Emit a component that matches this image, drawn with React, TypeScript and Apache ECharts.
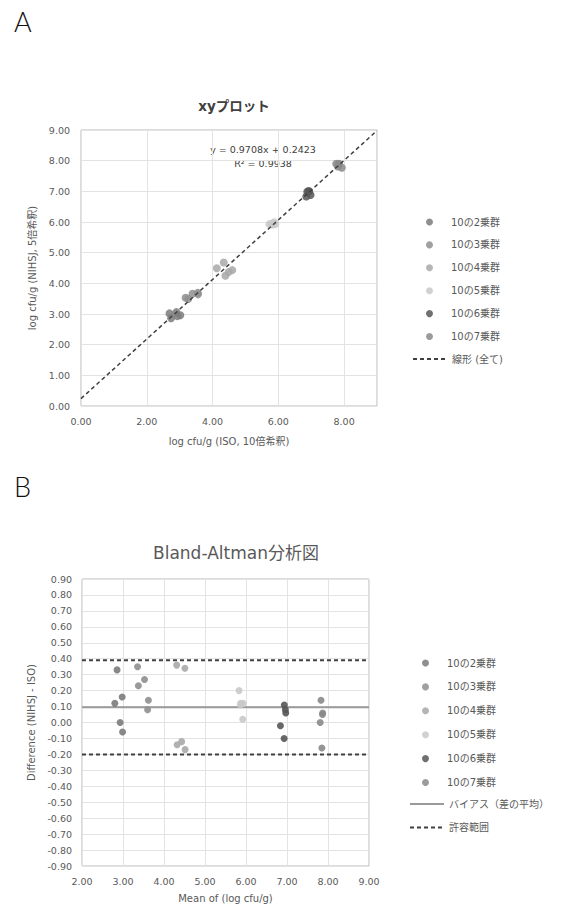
import React, { useEffect, useRef } from "react";
import * as echarts from "echarts";

const GROUPS = ["10の2乗群", "10の3乗群", "10の4乗群", "10の5乗群", "10の6乗群", "10の7乗群"];
const GROUP_COLORS = ["#7b7b7b", "#8f8f8f", "#a8a8a8", "#c9c9c9", "#575757", "#8a8a8a"];

// ISO (10倍希釈) and NIHSJ (5倍希釈) log cfu/g per group
const ISO_2 = [2.69, 2.9, 2.74, 2.93, 3.02];
const NIHSJ_2 = [3.02, 3.06, 2.86, 2.93, 2.96];
const ISO_3 = [3.18, 3.39, 3.26, 3.55, 3.56];
const NIHSJ_3 = [3.53, 3.66, 3.49, 3.69, 3.64];
const ISO_4 = [4.13, 4.34, 4.49, 4.39, 4.6];
const NIHSJ_4 = [4.49, 4.68, 4.37, 4.25, 4.43];
const ISO_5 = [5.73, 5.81, 5.87, 5.91, 5.81];
const NIHSJ_5 = [5.93, 5.93, 5.99, 5.93, 5.92];
const ISO_6 = [6.88, 6.92, 6.94, 6.85, 6.98];
const NIHSJ_6 = [6.99, 7.0, 7.0, 6.83, 6.88];
const ISO_7 = [7.76, 7.84, 7.81, 7.93, 7.84];
const NIHSJ_7 = [7.9, 7.9, 7.81, 7.77, 7.89];

const ISO = [ISO_2, ISO_3, ISO_4, ISO_5, ISO_6, ISO_7];
const NIHSJ = [NIHSJ_2, NIHSJ_3, NIHSJ_4, NIHSJ_5, NIHSJ_6, NIHSJ_7];

// regression (線形 全て)
const SLOPE = 0.9708;
const INTERCEPT = 0.2423;
const R2 = 0.9938;
const TREND_X = [0, 9];

// Bland-Altman
const BIAS = 0.095;
const LOA_UPPER = 0.39;
const LOA_LOWER = -0.2;
const BA_X = [2, 9];

const FONT = "'DejaVu Sans', 'Noto Sans CJK JP', sans-serif";
const TXT = "#595959";

export default function App() {
  const ref = useRef<HTMLDivElement>(null);
  useEffect(() => {
    if (!ref.current) return;
    const chart = echarts.init(ref.current, undefined, { renderer: "svg" });

    const scatterA = GROUPS.map((g, i) => ({
      name: g,
      type: "scatter",
      xAxisIndex: 0,
      yAxisIndex: 0,
      symbolSize: 8,
      itemStyle: { color: GROUP_COLORS[i], opacity: 0.85 },
      data: ISO[i].map((x, j) => [x, NIHSJ[i][j]]),
      z: 3,
    }));
    const scatterB = GROUPS.map((g, i) => ({
      name: g,
      type: "scatter",
      xAxisIndex: 1,
      yAxisIndex: 1,
      symbolSize: 7,
      itemStyle: { color: GROUP_COLORS[i], opacity: 0.9 },
      data: ISO[i].map((x, j) => [(x + NIHSJ[i][j]) / 2, NIHSJ[i][j] - x]),
      z: 3,
    }));

    const axisLabel = { color: TXT, fontSize: 9.5, fontFamily: FONT };
    const splitLine = { show: true, lineStyle: { color: "#e3e3e3", width: 1 } };
    const nameStyle = { color: TXT, fontSize: 10, fontFamily: FONT };
    const legendText = { color: TXT, fontSize: 10, fontFamily: FONT };

    const option: any = {
      animation: false,
      backgroundColor: "#ffffff",
      textStyle: { fontFamily: FONT },
      title: [
        {
          text: "xyプロット",
          left: 229,
          top: 94,
          textAlign: "center",
          textStyle: { fontSize: 13.5, fontWeight: "bold", color: "#404040", fontFamily: FONT },
        },
        {
          text: "Bland-Altman分析図",
          left: 231,
          top: 539,
          textAlign: "center",
          textStyle: { fontSize: 17, fontWeight: "normal", color: TXT, fontFamily: FONT },
        },
      ],
      grid: [
        { left: 81, top: 130, width: 296, height: 276, show: true, borderColor: "#b8b8b8", borderWidth: 1, backgroundColor: "transparent" },
        { left: 82, top: 579, width: 287, height: 287, show: true, borderColor: "#b8b8b8", borderWidth: 1, backgroundColor: "transparent" },
      ],
      xAxis: [
        {
          gridIndex: 0,
          type: "value",
          min: 0,
          max: 9,
          interval: 2,
          axisLine: { show: false },
          axisTick: { show: false },
          splitLine,
          axisLabel: { ...axisLabel, margin: 11, showMaxLabel: false, formatter: (v: number) => (v > 8.5 ? "" : v.toFixed(2)) },
          name: "log cfu/g (ISO, 10倍希釈)",
          nameLocation: "middle",
          nameGap: 30,
          nameTextStyle: nameStyle,
        },
        {
          gridIndex: 1,
          type: "value",
          min: 2,
          max: 9,
          interval: 1,
          axisLine: { show: false },
          axisTick: { show: false },
          splitLine,
          axisLabel: { ...axisLabel, margin: 11, formatter: (v: number) => v.toFixed(2) },
          name: "Mean of (log cfu/g)",
          nameLocation: "middle",
          nameGap: 27,
          nameTextStyle: nameStyle,
        },
      ],
      yAxis: [
        {
          gridIndex: 0,
          type: "value",
          min: 0,
          max: 9,
          interval: 1,
          axisLine: { show: false },
          axisTick: { show: false },
          splitLine,
          axisLabel: { ...axisLabel, margin: 11, formatter: (v: number) => v.toFixed(2) },
          name: "log cfu/g (NIHSJ, 5倍希釈)",
          nameLocation: "middle",
          nameGap: 40,
          nameTextStyle: nameStyle,
        },
        {
          gridIndex: 1,
          type: "value",
          min: -0.9,
          max: 0.9,
          interval: 0.1,
          axisLine: { show: false },
          axisTick: { show: false },
          splitLine,
          axisLabel: { ...axisLabel, margin: 10, formatter: (v: number) => (Math.abs(v) < 1e-9 ? "0.00" : v.toFixed(2)) },
          name: "Difference (NIHSJ - ISO)",
          nameLocation: "middle",
          nameGap: 46,
          nameTextStyle: nameStyle,
        },
      ],
      legend: [
        {
          orient: "vertical",
          left: 421,
          top: 212,
          itemWidth: 7,
          itemHeight: 7,
          itemGap: 12.9,
          icon: "circle",
          data: GROUPS,
          textStyle: { ...legendText, padding: [0, 0, 0, 13] },
          selectedMode: false,
        },
        {
          orient: "vertical",
          left: 407,
          top: 349,
          itemWidth: 34,
          itemHeight: 8,
          itemStyle: { opacity: 0 },
          data: ["線形 (全て)"],
          textStyle: legendText,
          selectedMode: false,
        },
        {
          orient: "vertical",
          left: 417,
          top: 653,
          itemWidth: 7,
          itemHeight: 7,
          itemGap: 13.9,
          icon: "circle",
          data: GROUPS,
          textStyle: { ...legendText, padding: [0, 0, 0, 13] },
          selectedMode: false,
        },
        {
          orient: "vertical",
          left: 404,
          top: 794,
          itemWidth: 34,
          itemHeight: 8,
          itemGap: 13.6,
          itemStyle: { opacity: 0 },
          data: ["バイアス（差の平均）", "許容範囲"],
          textStyle: legendText,
          selectedMode: false,
        },
      ],
      graphic: [
        { type: "text", left: 14, top: 8, style: { text: "A", fontSize: 27, fontWeight: 300, fill: "#111", fontFamily: "Lato, sans-serif" } },
        { type: "text", left: 14, top: 473, style: { text: "B", fontSize: 27, fontWeight: 300, fill: "#111", fontFamily: "Lato, sans-serif" } },
        {
          type: "text",
          x: 263,
          y: 149,
          style: { text: `y = ${SLOPE}x + ${INTERCEPT}`, fontSize: 9.5, fill: "#404040", fontFamily: FONT, align: "center", verticalAlign: "middle" },
        },
        {
          type: "text",
          x: 263,
          y: 163,
          style: { text: `R² = ${R2}`, fontSize: 9.5, fill: "#404040", fontFamily: FONT, align: "center", verticalAlign: "middle" },
        },
      ],
      series: [
        ...scatterA,
        {
          name: "線形 (全て)",
          type: "line",
          xAxisIndex: 0,
          yAxisIndex: 0,
          symbol: "none",
          lineStyle: { color: "#404040", width: 1.5, type: [4, 3] },
          itemStyle: { color: "#404040" },
          data: TREND_X.map((x) => [x, SLOPE * x + INTERCEPT]),
          z: 4,
        },
        ...scatterB,
        {
          name: "バイアス（差の平均）",
          type: "line",
          xAxisIndex: 1,
          yAxisIndex: 1,
          symbol: "none",
          lineStyle: { color: "#9a9a9a", width: 2 },
          itemStyle: { color: "#9a9a9a" },
          data: BA_X.map((x) => [x, BIAS]),
          z: 2,
        },
        {
          name: "許容範囲",
          type: "line",
          xAxisIndex: 1,
          yAxisIndex: 1,
          symbol: "none",
          connectNulls: false,
          lineStyle: { color: "#404040", width: 2, type: [4, 3] },
          itemStyle: { color: "#404040" },
          data: [...BA_X.map((x) => [x, LOA_UPPER]), ["-", "-"], ...BA_X.map((x) => [x, LOA_LOWER])],
          z: 2,
        },
      ],
    };
    chart.setOption(option);
    return () => chart.dispose();
  }, []);
  return <div ref={ref} style={{ position: "fixed", left: 0, top: 0, width: 561, height: 911 }} />;
}
